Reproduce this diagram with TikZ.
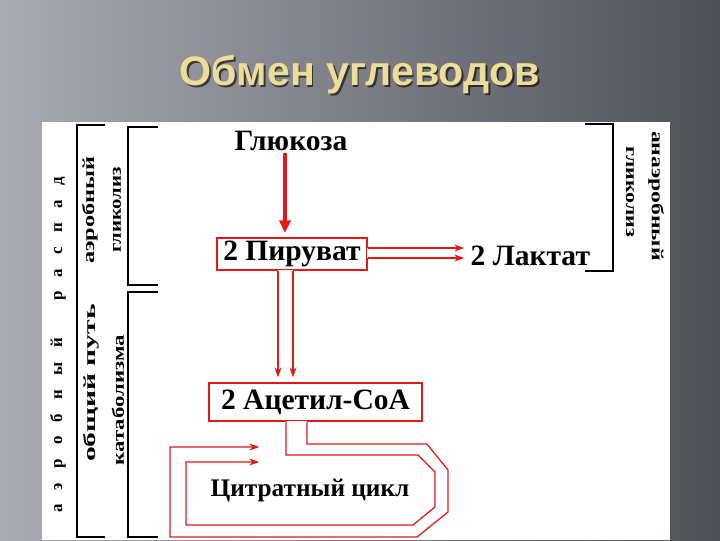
\documentclass[tikz,border=0pt]{standalone}
\usepackage{fontspec}
\setmainfont{Liberation Serif}
\newfontfamily\titlefont{Liberation Sans}
\usetikzlibrary{calc, arrows.meta}
\definecolor{pathred}{RGB}{225,25,25}
\definecolor{titleyellow}{RGB}{236,222,152}
\definecolor{bgleft}{RGB}{170,170,178}
\definecolor{bgright}{RGB}{80,80,88}
\tikzset{
    stage/.style={draw=pathred, line width=1.3pt, inner sep=2pt, font=\fontsize{21}{25}\selectfont\bfseries},
    metab/.style={inner sep=1pt, font=\fontsize{21}{25}\selectfont\bfseries},
    pipe/.style={pathred, line width=0.9pt},
    pipetip/.style={-{Stealth[length=7pt,width=5pt]}, shorten >=0.12cm},
    gap/.style={white, line width=2pt},
    bracket/.style={black, line width=1.4pt},
    sidelabel/.style={font=\fontsize{12}{14}\selectfont\bfseries, inner sep=0pt},
    slidetitle/.style={font=\titlefont\fontsize{29.3}{34}\selectfont\bfseries, inner sep=0pt}
}

\begin{document}
\begin{tikzpicture}[x=0.025cm, y=-0.025cm]
    % slide background
    \shade[left color=bgleft, right color=bgright] (0,0) rectangle (720,540);
    \fill[white] (42,122) rectangle (670,540);
    \useasboundingbox (0,0) rectangle (720,540);

    \node[slidetitle, text=black, opacity=0.6] (titleshadow) at (361.5,76.5) {Обмен углеводов};
    \node[slidetitle, text=titleyellow] (title) at (360,75) {Обмен углеводов};

    % metabolites
    \node[metab] (glu) at (291,141) {Глюкоза};
    \node[stage, minimum width=3.75cm, minimum height=0.8cm] (pyr) at (292,254) {2 Пируват};
    \node[metab, anchor=west] (lac) at (469,256) {2 Лактат};
    \node[stage, minimum width=5.325cm, minimum height=0.95cm] (acet) at (315.5,402) {2 Ацетил-СоА};
    \node[metab, font=\fontsize{18}{22}\selectfont\bfseries] (cit) at (310,490) {Цитратный цикл};

    % glucose -> pyruvate
    \coordinate (gx) at (285,0);
    \draw[pathred, line width=3pt, -{Triangle[length=9pt,width=8pt]}, shorten >=0.1cm]
        (gx |- glu.south) -- (gx |- pyr.north);

    % pyruvate -> lactate
    \coordinate (pl1) at ($(pyr.east)+(0,-6)$);
    \coordinate (pl2) at ($(pyr.east)+(0,4)$);
    \draw[gap] (pl1) -- (pl2);
    \draw[pipe, pipetip] (pl1) -- (pl1 -| lac.west);
    \draw[pipe, pipetip] (pl2) -- (pl2 -| lac.west);

    % pyruvate -> acetyl-CoA
    \coordinate (pa1) at (278,0);
    \coordinate (pa2) at (293,0);
    \draw[gap] (pa1 |- pyr.south) -- (pa2 |- pyr.south);
    \draw[pipe, pipetip] (pa1 |- pyr.south) -- (pa1 |- acet.north);
    \draw[pipe, pipetip] (pa2 |- pyr.south) -- (pa2 |- acet.north);

    % acetyl-CoA -> citrate cycle
    \coordinate (ci) at (286,0);
    \coordinate (co) at (307,0);
    \coordinate (cin) at (264,462);
    \coordinate (cout) at (264,447);
    \draw[gap] (ci |- acet.south) -- (co |- acet.south);
    \draw[pipe, pipetip] (ci |- acet.south) -- (286,455) -- (418,455) -- (435,472)
        -- (435,507) -- (413,525) -- (186,525) -- (186,462) -- (cin);
    \draw[pipe, pipetip] (co |- acet.south) -- (307,444) -- (427,444) -- (448,470)
        -- (448,512) -- (417,537) -- (170,537) -- (170,447) -- (cout);

    % brackets
    \draw[bracket] (105,125) -- (77,125) -- (77,537) -- (105,537);
    \draw[bracket] (158,127) -- (128,127) -- (128,285) -- (158,285);
    \draw[bracket] (158,292) -- (128,292) -- (128,537) -- (158,537);
    \draw[bracket] (585,124) -- (613,124) -- (613,271) -- (585,271);

    % side labels
    \node[sidelabel, rotate=90] (aerdecay) at (58,345)
        {\addfontfeature{LetterSpace=85}аэробный\ \ распад};
    \node[sidelabel, rotate=90, xscale=1.44] (aerglyc) at (90,210) {аэробный};
    \node[sidelabel, rotate=90, xscale=1.23] (glyc) at (117,210) {гликолиз};
    \node[sidelabel, rotate=90, xscale=1.75] (common) at (91,383) {общий путь};
    \node[sidelabel, rotate=90, xscale=1.35] (catab) at (118,400) {катаболизма};
    \node[sidelabel, rotate=-90, xscale=1.4] (anaer) at (656,196) {анаэробный};
    \node[sidelabel, rotate=-90, xscale=1.3] (anglyc) at (630,192) {гликолиз};
\end{tikzpicture}
\end{document}
